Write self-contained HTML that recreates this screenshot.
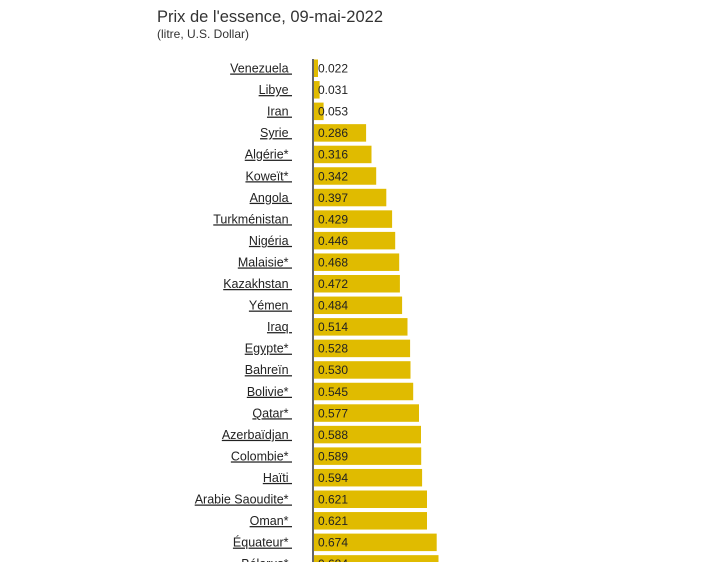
<!DOCTYPE html>
<html><head><meta charset="utf-8"><style>
html,body{margin:0;padding:0;background:#fff;width:720px;height:562px;overflow:hidden}
svg{display:block;font-family:"Liberation Sans",Arial,sans-serif}
</style></head><body>
<svg width="720" height="562" xmlns="http://www.w3.org/2000/svg">
<text x="157" y="22" font-size="16.5" fill="#333">Prix de l'essence, 09-mai-2022</text>
<text x="157" y="38" font-size="12" fill="#333">(litre, U.S. Dollar)</text>
<g id="rows" font-size="12.5"></g>
<line x1="313" y1="59" x2="313" y2="562" stroke="#000" stroke-width="1.2"/>
</svg>
<script>
var d=[["Venezuela",0.022],["Libye",0.031],["Iran",0.053],["Syrie",0.286],["Algérie*",0.316],["Koweït*",0.342],["Angola",0.397],["Turkménistan",0.429],["Nigéria",0.446],["Malaisie*",0.468],["Kazakhstan",0.472],["Yémen",0.484],["Iraq",0.514],["Egypte*",0.528],["Bahreïn",0.530],["Bolivie*",0.545],["Qatar*",0.577],["Azerbaïdjan",0.588],["Colombie*",0.589],["Haïti",0.594],["Arabie Saoudite*",0.621],["Oman*",0.621],["Équateur*",0.674],["Bélarus*",0.684]];
var g=document.getElementById("rows"),s="";
d.forEach(function(r,i){var cy=68+i*21.55;var w=Math.max(3,r[1]*182);
s+='<rect x="314" y="'+(cy-8.5)+'" width="'+w.toFixed(1)+'" height="17.5" fill="#e0bb00"/>';
s+='<text x="292" y="'+(cy+4.5)+'" text-anchor="end" fill="#222" text-decoration="underline">'+r[0]+'\u00a0</text>';
s+='<text x="318" y="'+(cy+4.5)+'" font-size="12" fill="#222">'+r[1].toFixed(3)+'</text>';});
g.innerHTML=s;
</script>
</body></html>
